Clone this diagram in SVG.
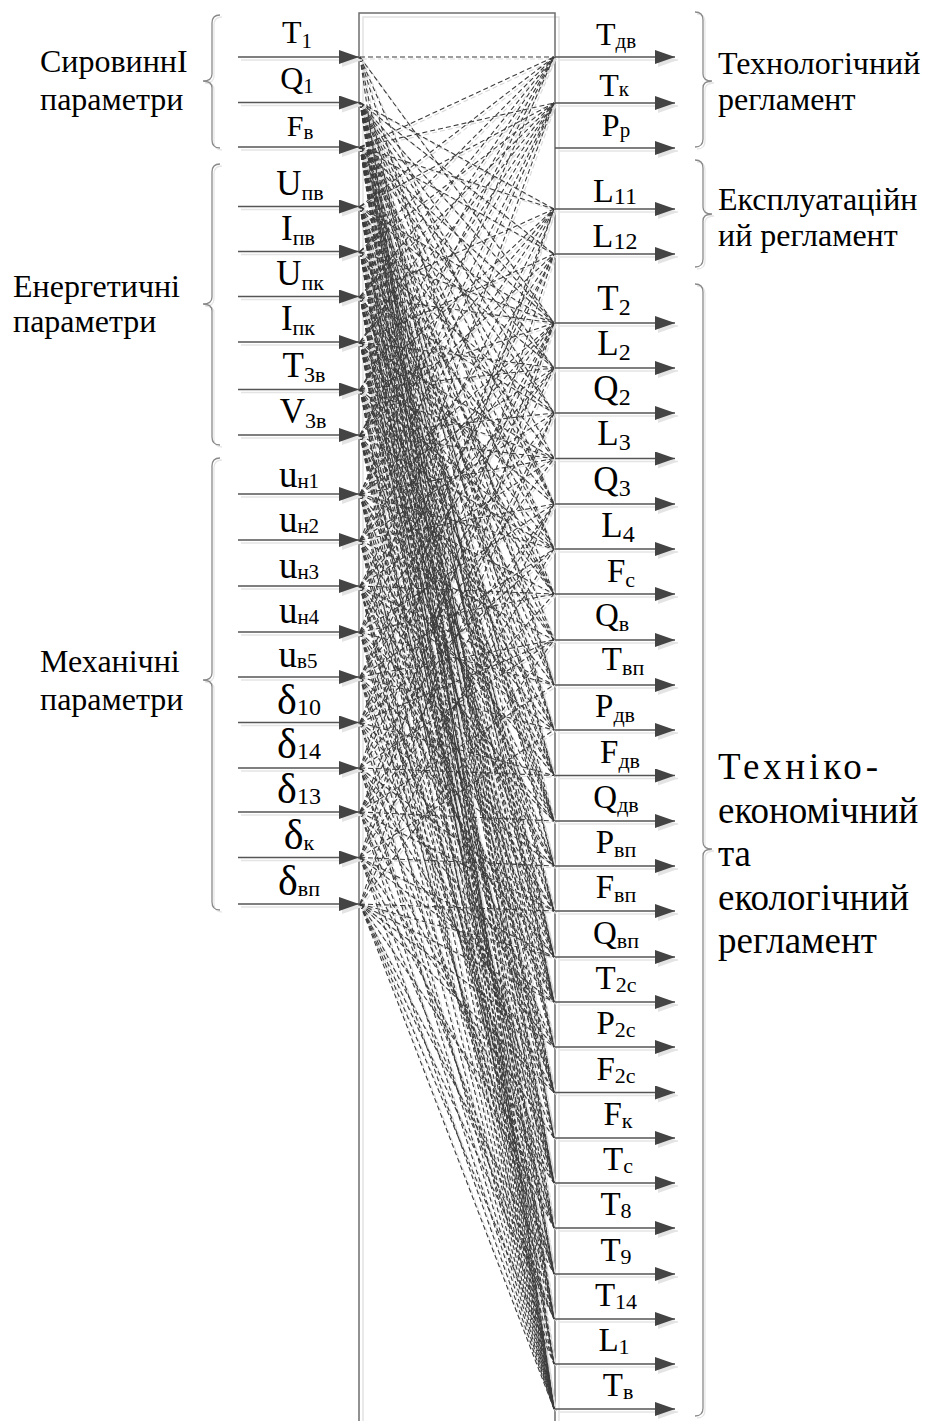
<svg xmlns="http://www.w3.org/2000/svg" width="927" height="1421" viewBox="0 0 927 1421">
<style>
.lbl{font-family:"Liberation Serif","Times New Roman",serif;fill:#000;text-anchor:middle}
.grp{font-family:"Liberation Serif","Times New Roman",serif;fill:#000;font-size:32px}
.grp2{font-family:"Liberation Serif","Times New Roman",serif;fill:#000;font-size:37px}
.arr{stroke:#555;stroke-width:1.5;marker-end:url(#ah)}
.arrsh{stroke:#e4e4e4;stroke-width:1.5;marker-end:url(#ahs)}
.conn{stroke:#3c3c3c;stroke-width:1.1;stroke-dasharray:5 3;fill:none}
.connsh{stroke:#d8d8d8;stroke-width:1.1;stroke-dasharray:5 3;fill:none}
.brace{fill:none;stroke:#8a8a8a;stroke-width:1.3}
.bracesh{fill:none;stroke:#e6e6e6;stroke-width:1.3}
.frame{fill:none;stroke:#6e6e6e;stroke-width:1.5}
.framesh{fill:none;stroke:#e2e2e2;stroke-width:1.5}
</style>
<defs>
<marker id="ah" viewBox="0 0 20 14" refX="20" refY="7" markerWidth="20" markerHeight="14" markerUnits="userSpaceOnUse" orient="auto"><path d="M0,0L20,7L0,14z" fill="#444"/></marker>
<marker id="ahs" viewBox="0 0 20 14" refX="20" refY="7" markerWidth="20" markerHeight="14" markerUnits="userSpaceOnUse" orient="auto"><path d="M0,0L20,7L0,14z" fill="#e4e4e4"/></marker>
</defs>
<rect width="927" height="1421" fill="#fff"/>

<g id="frame">
<path class="framesh" d="M363,1430V17H559V1430"/>
<path class="frame" d="M359,1430V13H555V1430"/>
</g>

<use href="#connector-lines" class="connsh" transform="translate(2,2)"/>

<g id="connectors" class="conn">
<g id="connector-lines">
<line x1="360" y1="57" x2="554" y2="57"/>
<line x1="360" y1="57" x2="554" y2="323"/>
<line x1="360" y1="57" x2="554" y2="504"/>
<line x1="360" y1="57" x2="554" y2="685"/>
<line x1="360" y1="57" x2="554" y2="1002"/>
<line x1="360" y1="57" x2="554" y2="1409"/>
<line x1="360" y1="102.5" x2="554" y2="209"/>
<line x1="360" y1="102.5" x2="554" y2="254"/>
<line x1="360" y1="102.5" x2="554" y2="323"/>
<line x1="360" y1="102.5" x2="554" y2="368"/>
<line x1="360" y1="102.5" x2="554" y2="413"/>
<line x1="360" y1="102.5" x2="554" y2="458.5"/>
<line x1="360" y1="102.5" x2="554" y2="504"/>
<line x1="360" y1="102.5" x2="554" y2="549"/>
<line x1="360" y1="102.5" x2="554" y2="594"/>
<line x1="360" y1="102.5" x2="554" y2="685"/>
<line x1="360" y1="102.5" x2="554" y2="730"/>
<line x1="360" y1="102.5" x2="554" y2="775.5"/>
<line x1="360" y1="102.5" x2="554" y2="821"/>
<line x1="360" y1="102.5" x2="554" y2="866"/>
<line x1="360" y1="102.5" x2="554" y2="957"/>
<line x1="360" y1="102.5" x2="554" y2="1002"/>
<line x1="360" y1="102.5" x2="554" y2="1047"/>
<line x1="360" y1="102.5" x2="554" y2="1138"/>
<line x1="360" y1="102.5" x2="554" y2="1183"/>
<line x1="360" y1="102.5" x2="554" y2="1228"/>
<line x1="360" y1="102.5" x2="554" y2="1319"/>
<line x1="360" y1="102.5" x2="554" y2="1409"/>
<line x1="360" y1="147" x2="554" y2="57"/>
<line x1="360" y1="147" x2="554" y2="103"/>
<line x1="360" y1="147" x2="554" y2="209"/>
<line x1="360" y1="147" x2="554" y2="254"/>
<line x1="360" y1="147" x2="554" y2="323"/>
<line x1="360" y1="147" x2="554" y2="368"/>
<line x1="360" y1="147" x2="554" y2="413"/>
<line x1="360" y1="147" x2="554" y2="504"/>
<line x1="360" y1="147" x2="554" y2="549"/>
<line x1="360" y1="147" x2="554" y2="640"/>
<line x1="360" y1="147" x2="554" y2="730"/>
<line x1="360" y1="147" x2="554" y2="775.5"/>
<line x1="360" y1="147" x2="554" y2="866"/>
<line x1="360" y1="147" x2="554" y2="911"/>
<line x1="360" y1="147" x2="554" y2="957"/>
<line x1="360" y1="147" x2="554" y2="1002"/>
<line x1="360" y1="147" x2="554" y2="1092.5"/>
<line x1="360" y1="147" x2="554" y2="1138"/>
<line x1="360" y1="147" x2="554" y2="1183"/>
<line x1="360" y1="147" x2="554" y2="1274"/>
<line x1="360" y1="147" x2="554" y2="1364"/>
<line x1="360" y1="147" x2="554" y2="1409"/>
<line x1="360" y1="206.5" x2="554" y2="57"/>
<line x1="360" y1="206.5" x2="554" y2="103"/>
<line x1="360" y1="206.5" x2="554" y2="323"/>
<line x1="360" y1="206.5" x2="554" y2="368"/>
<line x1="360" y1="206.5" x2="554" y2="458.5"/>
<line x1="360" y1="206.5" x2="554" y2="549"/>
<line x1="360" y1="206.5" x2="554" y2="594"/>
<line x1="360" y1="206.5" x2="554" y2="685"/>
<line x1="360" y1="206.5" x2="554" y2="730"/>
<line x1="360" y1="206.5" x2="554" y2="821"/>
<line x1="360" y1="206.5" x2="554" y2="911"/>
<line x1="360" y1="206.5" x2="554" y2="957"/>
<line x1="360" y1="206.5" x2="554" y2="1047"/>
<line x1="360" y1="206.5" x2="554" y2="1092.5"/>
<line x1="360" y1="206.5" x2="554" y2="1183"/>
<line x1="360" y1="206.5" x2="554" y2="1274"/>
<line x1="360" y1="206.5" x2="554" y2="1319"/>
<line x1="360" y1="206.5" x2="554" y2="1409"/>
<line x1="360" y1="251.5" x2="554" y2="57"/>
<line x1="360" y1="251.5" x2="554" y2="103"/>
<line x1="360" y1="251.5" x2="554" y2="323"/>
<line x1="360" y1="251.5" x2="554" y2="413"/>
<line x1="360" y1="251.5" x2="554" y2="504"/>
<line x1="360" y1="251.5" x2="554" y2="594"/>
<line x1="360" y1="251.5" x2="554" y2="640"/>
<line x1="360" y1="251.5" x2="554" y2="775.5"/>
<line x1="360" y1="251.5" x2="554" y2="821"/>
<line x1="360" y1="251.5" x2="554" y2="911"/>
<line x1="360" y1="251.5" x2="554" y2="1002"/>
<line x1="360" y1="251.5" x2="554" y2="1047"/>
<line x1="360" y1="251.5" x2="554" y2="1138"/>
<line x1="360" y1="251.5" x2="554" y2="1228"/>
<line x1="360" y1="251.5" x2="554" y2="1319"/>
<line x1="360" y1="251.5" x2="554" y2="1364"/>
<line x1="360" y1="251.5" x2="554" y2="1409"/>
<line x1="360" y1="296.5" x2="554" y2="57"/>
<line x1="360" y1="296.5" x2="554" y2="103"/>
<line x1="360" y1="296.5" x2="554" y2="209"/>
<line x1="360" y1="296.5" x2="554" y2="323"/>
<line x1="360" y1="296.5" x2="554" y2="413"/>
<line x1="360" y1="296.5" x2="554" y2="549"/>
<line x1="360" y1="296.5" x2="554" y2="594"/>
<line x1="360" y1="296.5" x2="554" y2="685"/>
<line x1="360" y1="296.5" x2="554" y2="775.5"/>
<line x1="360" y1="296.5" x2="554" y2="821"/>
<line x1="360" y1="296.5" x2="554" y2="957"/>
<line x1="360" y1="296.5" x2="554" y2="1002"/>
<line x1="360" y1="296.5" x2="554" y2="1092.5"/>
<line x1="360" y1="296.5" x2="554" y2="1183"/>
<line x1="360" y1="296.5" x2="554" y2="1274"/>
<line x1="360" y1="296.5" x2="554" y2="1364"/>
<line x1="360" y1="296.5" x2="554" y2="1409"/>
<line x1="360" y1="342" x2="554" y2="57"/>
<line x1="360" y1="342" x2="554" y2="103"/>
<line x1="360" y1="342" x2="554" y2="254"/>
<line x1="360" y1="342" x2="554" y2="368"/>
<line x1="360" y1="342" x2="554" y2="458.5"/>
<line x1="360" y1="342" x2="554" y2="504"/>
<line x1="360" y1="342" x2="554" y2="594"/>
<line x1="360" y1="342" x2="554" y2="640"/>
<line x1="360" y1="342" x2="554" y2="730"/>
<line x1="360" y1="342" x2="554" y2="821"/>
<line x1="360" y1="342" x2="554" y2="866"/>
<line x1="360" y1="342" x2="554" y2="957"/>
<line x1="360" y1="342" x2="554" y2="1047"/>
<line x1="360" y1="342" x2="554" y2="1092.5"/>
<line x1="360" y1="342" x2="554" y2="1183"/>
<line x1="360" y1="342" x2="554" y2="1274"/>
<line x1="360" y1="342" x2="554" y2="1319"/>
<line x1="360" y1="342" x2="554" y2="1409"/>
<line x1="360" y1="389.5" x2="554" y2="57"/>
<line x1="360" y1="389.5" x2="554" y2="103"/>
<line x1="360" y1="389.5" x2="554" y2="209"/>
<line x1="360" y1="389.5" x2="554" y2="323"/>
<line x1="360" y1="389.5" x2="554" y2="368"/>
<line x1="360" y1="389.5" x2="554" y2="458.5"/>
<line x1="360" y1="389.5" x2="554" y2="549"/>
<line x1="360" y1="389.5" x2="554" y2="640"/>
<line x1="360" y1="389.5" x2="554" y2="730"/>
<line x1="360" y1="389.5" x2="554" y2="775.5"/>
<line x1="360" y1="389.5" x2="554" y2="866"/>
<line x1="360" y1="389.5" x2="554" y2="911"/>
<line x1="360" y1="389.5" x2="554" y2="1002"/>
<line x1="360" y1="389.5" x2="554" y2="1138"/>
<line x1="360" y1="389.5" x2="554" y2="1228"/>
<line x1="360" y1="389.5" x2="554" y2="1364"/>
<line x1="360" y1="389.5" x2="554" y2="1409"/>
<line x1="360" y1="435" x2="554" y2="57"/>
<line x1="360" y1="435" x2="554" y2="103"/>
<line x1="360" y1="435" x2="554" y2="209"/>
<line x1="360" y1="435" x2="554" y2="254"/>
<line x1="360" y1="435" x2="554" y2="413"/>
<line x1="360" y1="435" x2="554" y2="458.5"/>
<line x1="360" y1="435" x2="554" y2="549"/>
<line x1="360" y1="435" x2="554" y2="685"/>
<line x1="360" y1="435" x2="554" y2="775.5"/>
<line x1="360" y1="435" x2="554" y2="821"/>
<line x1="360" y1="435" x2="554" y2="911"/>
<line x1="360" y1="435" x2="554" y2="957"/>
<line x1="360" y1="435" x2="554" y2="1092.5"/>
<line x1="360" y1="435" x2="554" y2="1183"/>
<line x1="360" y1="435" x2="554" y2="1228"/>
<line x1="360" y1="435" x2="554" y2="1319"/>
<line x1="360" y1="435" x2="554" y2="1409"/>
<line x1="360" y1="494" x2="554" y2="57"/>
<line x1="360" y1="494" x2="554" y2="103"/>
<line x1="360" y1="494" x2="554" y2="209"/>
<line x1="360" y1="494" x2="554" y2="323"/>
<line x1="360" y1="494" x2="554" y2="368"/>
<line x1="360" y1="494" x2="554" y2="458.5"/>
<line x1="360" y1="494" x2="554" y2="549"/>
<line x1="360" y1="494" x2="554" y2="594"/>
<line x1="360" y1="494" x2="554" y2="730"/>
<line x1="360" y1="494" x2="554" y2="821"/>
<line x1="360" y1="494" x2="554" y2="866"/>
<line x1="360" y1="494" x2="554" y2="1002"/>
<line x1="360" y1="494" x2="554" y2="1092.5"/>
<line x1="360" y1="494" x2="554" y2="1183"/>
<line x1="360" y1="494" x2="554" y2="1319"/>
<line x1="360" y1="494" x2="554" y2="1409"/>
<line x1="360" y1="540" x2="554" y2="103"/>
<line x1="360" y1="540" x2="554" y2="254"/>
<line x1="360" y1="540" x2="554" y2="323"/>
<line x1="360" y1="540" x2="554" y2="413"/>
<line x1="360" y1="540" x2="554" y2="504"/>
<line x1="360" y1="540" x2="554" y2="640"/>
<line x1="360" y1="540" x2="554" y2="775.5"/>
<line x1="360" y1="540" x2="554" y2="866"/>
<line x1="360" y1="540" x2="554" y2="957"/>
<line x1="360" y1="540" x2="554" y2="1092.5"/>
<line x1="360" y1="540" x2="554" y2="1183"/>
<line x1="360" y1="540" x2="554" y2="1274"/>
<line x1="360" y1="540" x2="554" y2="1409"/>
<line x1="360" y1="586" x2="554" y2="209"/>
<line x1="360" y1="586" x2="554" y2="323"/>
<line x1="360" y1="586" x2="554" y2="368"/>
<line x1="360" y1="586" x2="554" y2="458.5"/>
<line x1="360" y1="586" x2="554" y2="594"/>
<line x1="360" y1="586" x2="554" y2="685"/>
<line x1="360" y1="586" x2="554" y2="730"/>
<line x1="360" y1="586" x2="554" y2="821"/>
<line x1="360" y1="586" x2="554" y2="911"/>
<line x1="360" y1="586" x2="554" y2="1002"/>
<line x1="360" y1="586" x2="554" y2="1047"/>
<line x1="360" y1="586" x2="554" y2="1228"/>
<line x1="360" y1="586" x2="554" y2="1274"/>
<line x1="360" y1="586" x2="554" y2="1364"/>
<line x1="360" y1="586" x2="554" y2="1409"/>
<line x1="360" y1="632" x2="554" y2="103"/>
<line x1="360" y1="632" x2="554" y2="254"/>
<line x1="360" y1="632" x2="554" y2="368"/>
<line x1="360" y1="632" x2="554" y2="504"/>
<line x1="360" y1="632" x2="554" y2="594"/>
<line x1="360" y1="632" x2="554" y2="685"/>
<line x1="360" y1="632" x2="554" y2="821"/>
<line x1="360" y1="632" x2="554" y2="911"/>
<line x1="360" y1="632" x2="554" y2="1002"/>
<line x1="360" y1="632" x2="554" y2="1138"/>
<line x1="360" y1="632" x2="554" y2="1228"/>
<line x1="360" y1="632" x2="554" y2="1319"/>
<line x1="360" y1="632" x2="554" y2="1409"/>
<line x1="360" y1="677" x2="554" y2="254"/>
<line x1="360" y1="677" x2="554" y2="323"/>
<line x1="360" y1="677" x2="554" y2="413"/>
<line x1="360" y1="677" x2="554" y2="549"/>
<line x1="360" y1="677" x2="554" y2="640"/>
<line x1="360" y1="677" x2="554" y2="730"/>
<line x1="360" y1="677" x2="554" y2="866"/>
<line x1="360" y1="677" x2="554" y2="957"/>
<line x1="360" y1="677" x2="554" y2="1047"/>
<line x1="360" y1="677" x2="554" y2="1183"/>
<line x1="360" y1="677" x2="554" y2="1274"/>
<line x1="360" y1="677" x2="554" y2="1409"/>
<line x1="360" y1="722.5" x2="554" y2="209"/>
<line x1="360" y1="722.5" x2="554" y2="323"/>
<line x1="360" y1="722.5" x2="554" y2="458.5"/>
<line x1="360" y1="722.5" x2="554" y2="549"/>
<line x1="360" y1="722.5" x2="554" y2="640"/>
<line x1="360" y1="722.5" x2="554" y2="775.5"/>
<line x1="360" y1="722.5" x2="554" y2="866"/>
<line x1="360" y1="722.5" x2="554" y2="957"/>
<line x1="360" y1="722.5" x2="554" y2="1092.5"/>
<line x1="360" y1="722.5" x2="554" y2="1274"/>
<line x1="360" y1="722.5" x2="554" y2="1409"/>
<line x1="360" y1="768" x2="554" y2="209"/>
<line x1="360" y1="768" x2="554" y2="368"/>
<line x1="360" y1="768" x2="554" y2="504"/>
<line x1="360" y1="768" x2="554" y2="640"/>
<line x1="360" y1="768" x2="554" y2="775.5"/>
<line x1="360" y1="768" x2="554" y2="911"/>
<line x1="360" y1="768" x2="554" y2="1002"/>
<line x1="360" y1="768" x2="554" y2="1092.5"/>
<line x1="360" y1="768" x2="554" y2="1228"/>
<line x1="360" y1="768" x2="554" y2="1364"/>
<line x1="360" y1="768" x2="554" y2="1409"/>
<line x1="360" y1="812" x2="554" y2="323"/>
<line x1="360" y1="812" x2="554" y2="413"/>
<line x1="360" y1="812" x2="554" y2="504"/>
<line x1="360" y1="812" x2="554" y2="594"/>
<line x1="360" y1="812" x2="554" y2="685"/>
<line x1="360" y1="812" x2="554" y2="821"/>
<line x1="360" y1="812" x2="554" y2="911"/>
<line x1="360" y1="812" x2="554" y2="1047"/>
<line x1="360" y1="812" x2="554" y2="1183"/>
<line x1="360" y1="812" x2="554" y2="1319"/>
<line x1="360" y1="812" x2="554" y2="1409"/>
<line x1="360" y1="857.5" x2="554" y2="254"/>
<line x1="360" y1="857.5" x2="554" y2="413"/>
<line x1="360" y1="857.5" x2="554" y2="549"/>
<line x1="360" y1="857.5" x2="554" y2="730"/>
<line x1="360" y1="857.5" x2="554" y2="866"/>
<line x1="360" y1="857.5" x2="554" y2="957"/>
<line x1="360" y1="857.5" x2="554" y2="1002"/>
<line x1="360" y1="857.5" x2="554" y2="1138"/>
<line x1="360" y1="857.5" x2="554" y2="1228"/>
<line x1="360" y1="857.5" x2="554" y2="1319"/>
<line x1="360" y1="857.5" x2="554" y2="1409"/>
<line x1="360" y1="904" x2="554" y2="323"/>
<line x1="360" y1="904" x2="554" y2="504"/>
<line x1="360" y1="904" x2="554" y2="640"/>
<line x1="360" y1="904" x2="554" y2="911"/>
<line x1="360" y1="904" x2="554" y2="957"/>
<line x1="360" y1="904" x2="554" y2="1002"/>
<line x1="360" y1="904" x2="554" y2="1047"/>
<line x1="360" y1="904" x2="554" y2="1092.5"/>
<line x1="360" y1="904" x2="554" y2="1183"/>
<line x1="360" y1="904" x2="554" y2="1274"/>
<line x1="360" y1="904" x2="554" y2="1319"/>
<line x1="360" y1="904" x2="554" y2="1364"/>
<line x1="360" y1="904" x2="554" y2="1409"/>
</g>
</g>

<g id="arrow-shadows" class="arrsh">
<line x1="241" y1="60" x2="362" y2="60"/><line x1="241" y1="105.5" x2="362" y2="105.5"/><line x1="241" y1="150" x2="362" y2="150"/>
<line x1="241" y1="209.5" x2="362" y2="209.5"/><line x1="241" y1="254.5" x2="362" y2="254.5"/><line x1="241" y1="299.5" x2="362" y2="299.5"/>
<line x1="241" y1="345" x2="362" y2="345"/><line x1="241" y1="392.5" x2="362" y2="392.5"/><line x1="241" y1="438" x2="362" y2="438"/>
<line x1="241" y1="497" x2="362" y2="497"/><line x1="241" y1="543" x2="362" y2="543"/><line x1="241" y1="589" x2="362" y2="589"/>
<line x1="241" y1="635" x2="362" y2="635"/><line x1="241" y1="680" x2="362" y2="680"/><line x1="241" y1="725.5" x2="362" y2="725.5"/>
<line x1="241" y1="771" x2="362" y2="771"/><line x1="241" y1="815" x2="362" y2="815"/><line x1="241" y1="860.5" x2="362" y2="860.5"/>
<line x1="241" y1="907" x2="362" y2="907"/>
<line x1="558" y1="60" x2="678" y2="60"/><line x1="558" y1="106" x2="678" y2="106"/><line x1="558" y1="151" x2="678" y2="151"/>
<line x1="558" y1="212" x2="678" y2="212"/><line x1="558" y1="257" x2="678" y2="257"/><line x1="558" y1="326" x2="678" y2="326"/>
<line x1="558" y1="371" x2="678" y2="371"/><line x1="558" y1="416" x2="678" y2="416"/><line x1="558" y1="461.5" x2="678" y2="461.5"/>
<line x1="558" y1="507" x2="678" y2="507"/><line x1="558" y1="552" x2="678" y2="552"/><line x1="558" y1="597" x2="678" y2="597"/>
<line x1="558" y1="643" x2="678" y2="643"/><line x1="558" y1="688" x2="678" y2="688"/><line x1="558" y1="733" x2="678" y2="733"/>
<line x1="558" y1="778.5" x2="678" y2="778.5"/><line x1="558" y1="824" x2="678" y2="824"/><line x1="558" y1="869" x2="678" y2="869"/>
<line x1="558" y1="914" x2="678" y2="914"/><line x1="558" y1="960" x2="678" y2="960"/><line x1="558" y1="1005" x2="678" y2="1005"/>
<line x1="558" y1="1050" x2="678" y2="1050"/><line x1="558" y1="1095.5" x2="678" y2="1095.5"/><line x1="558" y1="1141" x2="678" y2="1141"/>
<line x1="558" y1="1186" x2="678" y2="1186"/><line x1="558" y1="1231" x2="678" y2="1231"/><line x1="558" y1="1277" x2="678" y2="1277"/>
<line x1="558" y1="1322" x2="678" y2="1322"/><line x1="558" y1="1367" x2="678" y2="1367"/><line x1="558" y1="1412" x2="678" y2="1412"/>
</g>

<g id="in-T1"><line class="arr" x1="238" y1="57" x2="359" y2="57"/><text class="lbl" x="297" y="43" font-size="32">T<tspan font-size="21" dy="5">1</tspan></text></g>
<g id="in-Q1"><line class="arr" x1="238" y1="102.5" x2="359" y2="102.5"/><text class="lbl" x="297" y="89" font-size="32">Q<tspan font-size="21" dy="4">1</tspan></text></g>
<g id="in-Fv"><line class="arr" x1="238" y1="147" x2="359" y2="147"/><text class="lbl" x="300" y="136" font-size="30">F<tspan font-size="21" dy="3">в</tspan></text></g>
<g id="in-Upv"><line class="arr" x1="238" y1="206.5" x2="359" y2="206.5"/><text class="lbl" x="300" y="195" font-size="35">U<tspan font-size="22" dy="5">пв</tspan></text></g>
<g id="in-Ipv"><line class="arr" x1="238" y1="251.5" x2="359" y2="251.5"/><text class="lbl" x="298" y="240" font-size="35">I<tspan font-size="22" dy="5">пв</tspan></text></g>
<g id="in-Upk"><line class="arr" x1="238" y1="296.5" x2="359" y2="296.5"/><text class="lbl" x="300" y="285" font-size="35">U<tspan font-size="22" dy="5">пк</tspan></text></g>
<g id="in-Ipk"><line class="arr" x1="238" y1="342" x2="359" y2="342"/><text class="lbl" x="298" y="330" font-size="35">I<tspan font-size="22" dy="5">пк</tspan></text></g>
<g id="in-T3v"><line class="arr" x1="238" y1="389.5" x2="359" y2="389.5"/><text class="lbl" x="304" y="377" font-size="35">T<tspan font-size="22" dy="5">3в</tspan></text></g>
<g id="in-V3v"><line class="arr" x1="238" y1="435" x2="359" y2="435"/><text class="lbl" x="303" y="423" font-size="35">V<tspan font-size="22" dy="5">3в</tspan></text></g>
<g id="in-un1"><line class="arr" x1="238" y1="494" x2="359" y2="494"/><text class="lbl" x="299" y="487" font-size="37">u<tspan font-size="21" dy="1">н1</tspan></text></g>
<g id="in-un2"><line class="arr" x1="238" y1="540" x2="359" y2="540"/><text class="lbl" x="299" y="532" font-size="37">u<tspan font-size="21" dy="1">н2</tspan></text></g>
<g id="in-un3"><line class="arr" x1="238" y1="586" x2="359" y2="586"/><text class="lbl" x="299" y="578" font-size="37">u<tspan font-size="21" dy="1">н3</tspan></text></g>
<g id="in-un4"><line class="arr" x1="238" y1="632" x2="359" y2="632"/><text class="lbl" x="299" y="623" font-size="37">u<tspan font-size="21" dy="1">н4</tspan></text></g>
<g id="in-uv5"><line class="arr" x1="238" y1="677" x2="359" y2="677"/><text class="lbl" x="298" y="667" font-size="37">u<tspan font-size="21" dy="1">в5</tspan></text></g>
<g id="in-d10"><line class="arr" x1="238" y1="722.5" x2="359" y2="722.5"/><text class="lbl" x="299" y="714" font-size="42">δ<tspan font-size="24" dy="1">10</tspan></text></g>
<g id="in-d14"><line class="arr" x1="238" y1="768" x2="359" y2="768"/><text class="lbl" x="299" y="758" font-size="42">δ<tspan font-size="24" dy="1">14</tspan></text></g>
<g id="in-d13"><line class="arr" x1="238" y1="812" x2="359" y2="812"/><text class="lbl" x="299" y="803" font-size="42">δ<tspan font-size="24" dy="1">13</tspan></text></g>
<g id="in-dk"><line class="arr" x1="238" y1="857.5" x2="359" y2="857.5"/><text class="lbl" x="299" y="849" font-size="42">δ<tspan font-size="22" dy="1">к</tspan></text></g>
<g id="in-dvp"><line class="arr" x1="238" y1="904" x2="359" y2="904"/><text class="lbl" x="299" y="895" font-size="42">δ<tspan font-size="22" dy="1">вп</tspan></text></g>

<g id="out-Tdv"><line class="arr" x1="555" y1="57" x2="675" y2="57"/><text class="lbl" x="616" y="45" font-size="32">T<tspan font-size="21" dy="3">дв</tspan></text></g>
<g id="out-Tk"><line class="arr" x1="555" y1="103" x2="675" y2="103"/><text class="lbl" x="614" y="96" font-size="32">T<tspan font-size="21" dy="0">к</tspan></text></g>
<g id="out-Pr"><line class="arr" x1="555" y1="148" x2="675" y2="148"/><text class="lbl" x="616" y="136" font-size="32">P<tspan font-size="21" dy="1">р</tspan></text></g>
<g id="out-L11"><line class="arr" x1="555" y1="209" x2="675" y2="209"/><text class="lbl" x="615" y="202" font-size="34">L<tspan font-size="24" dy="2">11</tspan></text></g>
<g id="out-L12"><line class="arr" x1="555" y1="254" x2="675" y2="254"/><text class="lbl" x="615" y="247" font-size="34">L<tspan font-size="24" dy="2">12</tspan></text></g>
<g id="out-T2"><line class="arr" x1="555" y1="323" x2="675" y2="323"/><text class="lbl" x="614" y="310" font-size="35">T<tspan font-size="24" dy="5">2</tspan></text></g>
<g id="out-L2"><line class="arr" x1="555" y1="368" x2="675" y2="368"/><text class="lbl" x="614" y="355" font-size="35">L<tspan font-size="24" dy="5">2</tspan></text></g>
<g id="out-Q2"><line class="arr" x1="555" y1="413" x2="675" y2="413"/><text class="lbl" x="612" y="400" font-size="35">Q<tspan font-size="24" dy="5">2</tspan></text></g>
<g id="out-L3"><line class="arr" x1="555" y1="458.5" x2="675" y2="458.5"/><text class="lbl" x="614" y="445" font-size="35">L<tspan font-size="24" dy="5">3</tspan></text></g>
<g id="out-Q3"><line class="arr" x1="555" y1="504" x2="675" y2="504"/><text class="lbl" x="612" y="491" font-size="35">Q<tspan font-size="24" dy="5">3</tspan></text></g>
<g id="out-L4"><line class="arr" x1="555" y1="549" x2="675" y2="549"/><text class="lbl" x="618" y="537" font-size="35">L<tspan font-size="24" dy="5">4</tspan></text></g>
<g id="out-Fs"><line class="arr" x1="555" y1="594" x2="675" y2="594"/><text class="lbl" x="621" y="582" font-size="33">F<tspan font-size="22" dy="5">с</tspan></text></g>
<g id="out-Qv"><line class="arr" x1="555" y1="640" x2="675" y2="640"/><text class="lbl" x="612" y="626" font-size="33">Q<tspan font-size="22" dy="5">в</tspan></text></g>
<g id="out-Tvp"><line class="arr" x1="555" y1="685" x2="675" y2="685"/><text class="lbl" x="623" y="670" font-size="33">T<tspan font-size="22" dy="5">вп</tspan></text></g>
<g id="out-Pdv"><line class="arr" x1="555" y1="730" x2="675" y2="730"/><text class="lbl" x="615" y="717" font-size="33">P<tspan font-size="22" dy="5">дв</tspan></text></g>
<g id="out-Fdv"><line class="arr" x1="555" y1="775.5" x2="675" y2="775.5"/><text class="lbl" x="620" y="763" font-size="33">F<tspan font-size="22" dy="5">дв</tspan></text></g>
<g id="out-Qdv"><line class="arr" x1="555" y1="821" x2="675" y2="821"/><text class="lbl" x="616" y="808" font-size="33">Q<tspan font-size="22" dy="4">дв</tspan></text></g>
<g id="out-Pvp"><line class="arr" x1="555" y1="866" x2="675" y2="866"/><text class="lbl" x="616" y="853" font-size="33">P<tspan font-size="22" dy="4">вп</tspan></text></g>
<g id="out-Fvp"><line class="arr" x1="555" y1="911" x2="675" y2="911"/><text class="lbl" x="616" y="898" font-size="33">F<tspan font-size="22" dy="4">вп</tspan></text></g>
<g id="out-Qvp"><line class="arr" x1="555" y1="957" x2="675" y2="957"/><text class="lbl" x="616" y="944" font-size="33">Q<tspan font-size="22" dy="4">вп</tspan></text></g>
<g id="out-T2s"><line class="arr" x1="555" y1="1002" x2="675" y2="1002"/><text class="lbl" x="616" y="989" font-size="33">T<tspan font-size="22" dy="3">2с</tspan></text></g>
<g id="out-P2s"><line class="arr" x1="555" y1="1047" x2="675" y2="1047"/><text class="lbl" x="616" y="1034" font-size="33">P<tspan font-size="22" dy="3">2с</tspan></text></g>
<g id="out-F2s"><line class="arr" x1="555" y1="1092.5" x2="675" y2="1092.5"/><text class="lbl" x="616" y="1080" font-size="33">F<tspan font-size="22" dy="3">2с</tspan></text></g>
<g id="out-Fk"><line class="arr" x1="555" y1="1138" x2="675" y2="1138"/><text class="lbl" x="618" y="1125" font-size="33">F<tspan font-size="22" dy="3">к</tspan></text></g>
<g id="out-Ts"><line class="arr" x1="555" y1="1183" x2="675" y2="1183"/><text class="lbl" x="618" y="1170" font-size="33">T<tspan font-size="22" dy="3">с</tspan></text></g>
<g id="out-T8"><line class="arr" x1="555" y1="1228" x2="675" y2="1228"/><text class="lbl" x="616" y="1215" font-size="33">T<tspan font-size="22" dy="3">8</tspan></text></g>
<g id="out-T9"><line class="arr" x1="555" y1="1274" x2="675" y2="1274"/><text class="lbl" x="616" y="1261" font-size="33">T<tspan font-size="22" dy="3">9</tspan></text></g>
<g id="out-T14"><line class="arr" x1="555" y1="1319" x2="675" y2="1319"/><text class="lbl" x="616" y="1306" font-size="33">T<tspan font-size="22" dy="3">14</tspan></text></g>
<g id="out-L1"><line class="arr" x1="555" y1="1364" x2="675" y2="1364"/><text class="lbl" x="614" y="1351" font-size="33">L<tspan font-size="22" dy="3">1</tspan></text></g>
<g id="out-Tv"><line class="arr" x1="555" y1="1409" x2="675" y2="1409"/><text class="lbl" x="618" y="1396" font-size="33">T<tspan font-size="22" dy="3">в</tspan></text></g>

<g id="grp-raw">
<path class="bracesh" d="M222,17Q214,17 214,25V76Q214,83 205,83Q214,83 214,90V142Q214,150 222,150"/>
<path class="brace" d="M220,15Q212,15 212,23V74Q212,81 203,81Q212,81 212,88V140Q212,148 220,148"/>
<text class="grp" x="40" y="72">СировиннІ</text>
<text class="grp" x="40" y="110">параметри</text>
</g>
<g id="grp-energy">
<path class="bracesh" d="M222,166Q214,166 214,174V299Q214,306 205,306Q214,306 214,313V439Q214,447 222,447"/>
<path class="brace" d="M220,164Q212,164 212,172V297Q212,304 203,304Q212,304 212,311V437Q212,445 220,445"/>
<text class="grp" x="13" y="297">Енергетичні</text>
<text class="grp" x="13" y="332">параметри</text>
</g>
<g id="grp-mech">
<path class="bracesh" d="M222,460Q214,460 214,468V675Q214,682 205,682Q214,682 214,689V904Q214,912 222,912"/>
<path class="brace" d="M220,458Q212,458 212,466V673Q212,680 203,680Q212,680 212,687V902Q212,910 220,910"/>
<text class="grp" x="40" y="672">Механічні</text>
<text class="grp" x="40" y="710">параметри</text>
</g>
<g id="grp-tech">
<path class="bracesh" d="M697,14Q705,14 705,22V76Q705,83 714,83Q705,83 705,90V141Q705,149 697,149"/>
<path class="brace" d="M695,12Q703,12 703,20V74Q703,81 712,81Q703,81 703,88V139Q703,147 695,147"/>
<text class="grp" x="718" y="74">Технологічний</text>
<text class="grp" x="718" y="110">регламент</text>
</g>
<g id="grp-expl">
<path class="bracesh" d="M697,162Q705,162 705,170V209Q705,216 714,216Q705,216 705,223V261Q705,269 697,269"/>
<path class="brace" d="M695,160Q703,160 703,168V207Q703,214 712,214Q703,214 703,221V259Q703,267 695,267"/>
<text class="grp" x="718" y="210">Експлуатаційн</text>
<text class="grp" x="718" y="246">ий регламент</text>
</g>
<g id="grp-econ">
<path class="bracesh" d="M697,286Q705,286 705,294V844Q705,851 714,851Q705,851 705,858V1410Q705,1418 697,1418"/>
<path class="brace" d="M695,284Q703,284 703,292V842Q703,849 712,849Q703,849 703,856V1408Q703,1416 695,1416"/>
<text class="grp2" x="718" y="779" textLength="160" lengthAdjust="spacing">Техніко-</text>
<text class="grp2" x="718" y="823">економічний</text>
<text class="grp2" x="718" y="866">та</text>
<text class="grp2" x="718" y="910">екологічний</text>
<text class="grp2" x="718" y="953">регламент</text>
</g>
</svg>
